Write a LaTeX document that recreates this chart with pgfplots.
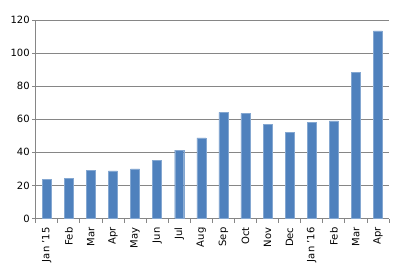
\documentclass[border=0pt]{standalone}
\usepackage{pgfplots}
\pgfplotsset{compat=1.18}
\usepackage{fontspec}
\setmainfont{DejaVu Sans}
\definecolor{barblue}{HTML}{4F81BD}
\definecolor{gridgray}{HTML}{868686}
\begin{document}
\begin{tikzpicture}
\path[use as bounding box] (-35.7bp,-50.5bp) rectangle (378.3bp,198.5bp+20bp);
\begin{axis}[
  at={(0,0)}, anchor=south west,
  scale only axis,
  width=353.3bp, height=198.5bp,
  xmin=-0.5, xmax=15.5,
  ymin=0, ymax=120,
  ytick={0,20,...,120},
  xtick={0,...,15},
  xticklabels={Jan '15,Feb,Mar,Apr,May,Jun,Jul,Aug,Sep,Oct,Nov,Dec,Jan '16,Feb,Mar,Apr},
  minor xtick={-0.5,0.5,...,15.5},
  major x tick style={draw=none},
  minor x tick style={draw=gridgray, line width=0.8bp},
  y tick style={draw=gridgray, line width=0.8bp},
  tick align=outside,
  major tick length=3.5bp,
  minor tick length=4bp,
  axis lines*=left,
  axis line style={draw=gridgray, line width=0.8bp, -},
  ymajorgrids,
  grid style={draw=gridgray, line width=0.8bp},
  x tick label style={rotate=90, anchor=east, font=\fontsize{10bp}{12bp}\selectfont, xshift=-2bp},
  y tick label style={font=\fontsize{10bp}{12bp}\selectfont, xshift=1bp},
  /pgf/number format/assume math mode=true,
  ybar, bar width=9bp,
  clip=false,
]
\addplot[fill=barblue, draw=barblue!70!white, line width=0.4bp] coordinates {
(0,23.8) (1,24.3) (2,28.9) (3,28.8) (4,30.0) (5,35.2) (6,41.4) (7,48.7)
(8,64.1) (9,63.6) (10,57.1) (11,52.1) (12,58.2) (13,59.0) (14,88.2) (15,113.4)
};
\end{axis}
\end{tikzpicture}
\end{document}
